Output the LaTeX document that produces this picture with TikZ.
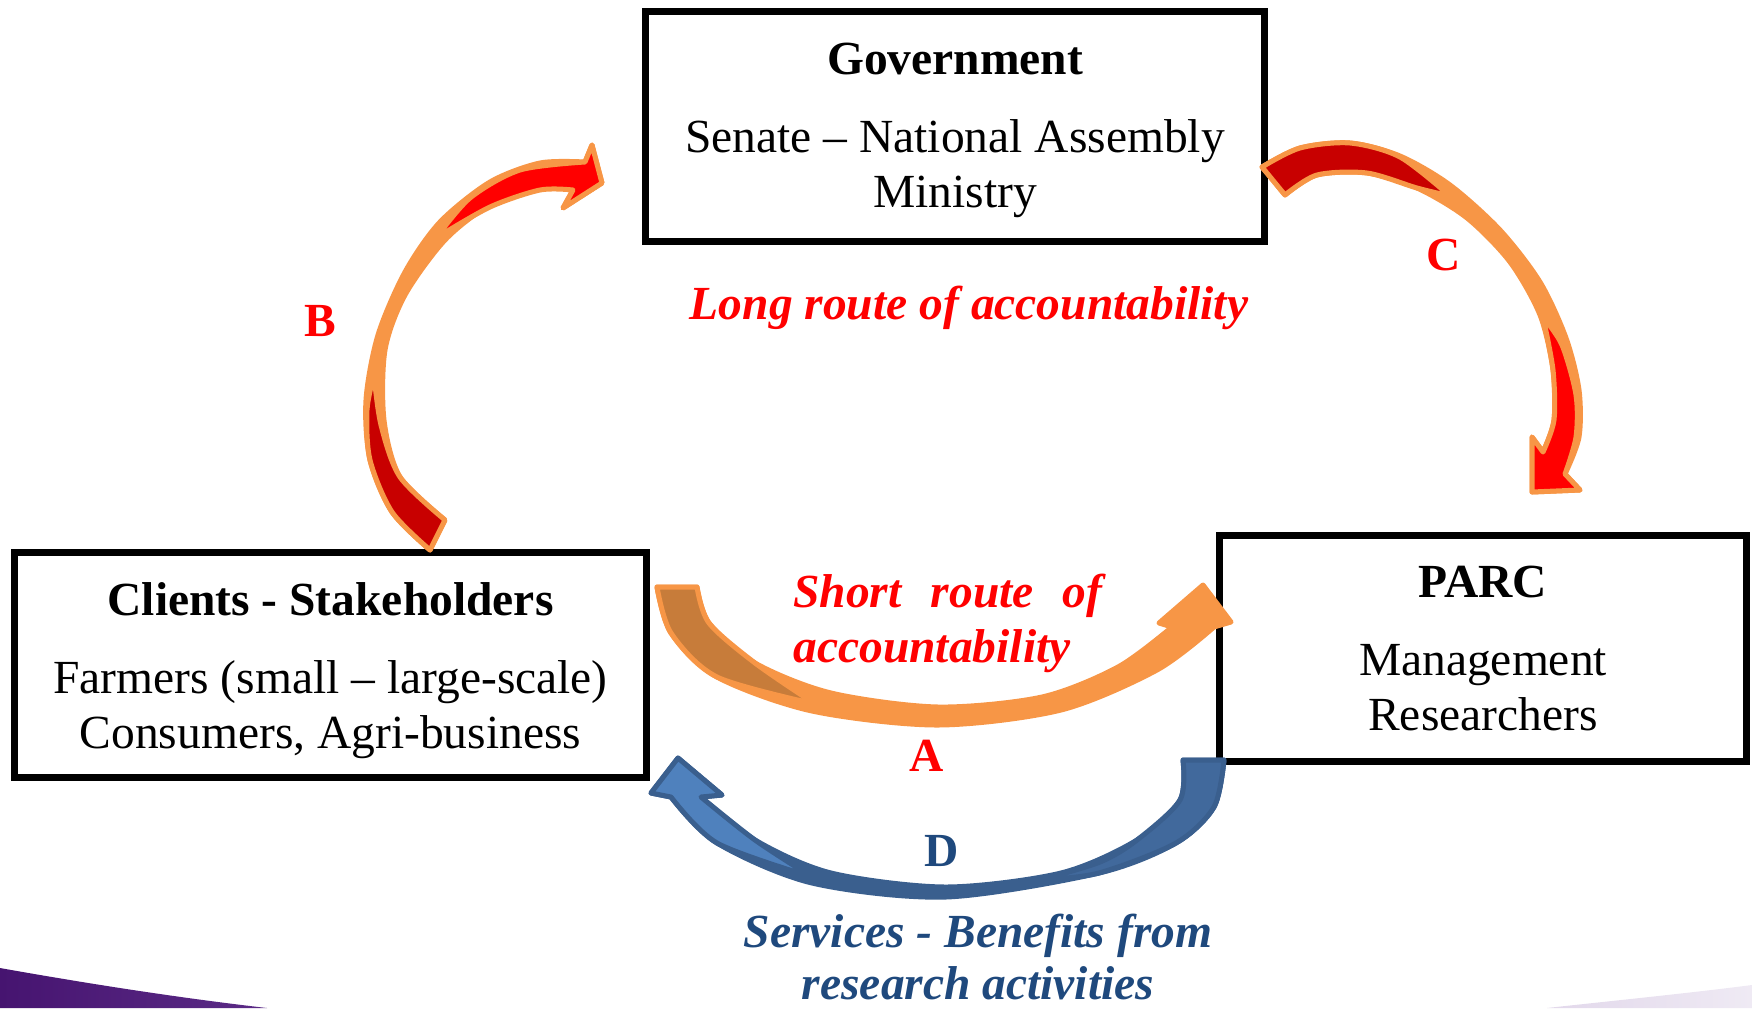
\documentclass[tikz,border=0pt]{standalone}
\usepackage{fontspec}
\setmainfont{Liberation Serif}

\definecolor{arrowOrange}{HTML}{F79646}
\definecolor{arrowBrown}{HTML}{C77C3A}
\definecolor{arrowRed}{HTML}{FF0000}
\definecolor{arrowDarkRed}{HTML}{C80000}
\definecolor{arrowBlue}{HTML}{4F81BD}
\definecolor{arrowNavy}{HTML}{3A5F8E}
\definecolor{arrowSteel}{HTML}{41699C}
\definecolor{textBlue}{HTML}{1F497D}
\definecolor{slidePurple}{HTML}{461470}
\definecolor{slideViolet}{HTML}{5B2B86}
\definecolor{slideLilac}{HTML}{E2D8EB}
\definecolor{slideMist}{HTML}{EFEAF4}

\begin{document}
\begin{tikzpicture}[x=0.5pt, y=-0.5pt,
    box/.style={rectangle, draw, line width=3.5pt, align=center, inner sep=0pt,
        font=\fontsize{23.75pt}{27.5pt}\selectfont},
    tag/.style={anchor=base, inner sep=0pt, font=\fontsize{23.75pt}{27.5pt}\selectfont\bfseries},
    route/.style={anchor=base, inner sep=0pt, font=\fontsize{23.75pt}{27.5pt}\selectfont\bfseries\itshape},
    redrim/.style={draw=arrowOrange, line width=2.5pt, line join=round},
    bluerim/.style={draw=arrowNavy, line width=2.5pt, line join=round}]

    \useasboundingbox (0,0) rectangle (1752,1008);

    % slide corners
    \shade[left color=slidePurple, right color=slideViolet] (0,968) .. controls (90,984) and (180,998) .. (267,1008) -- (0,1008) -- cycle;
    \shade[left color=slideLilac, right color=slideMist] (1547,1008) .. controls (1620,1000) and (1690,993) .. (1752,985) -- (1752,1008) -- cycle;

    % the three boxes
    \node (gov) [box, minimum width=309.5pt, minimum height=115pt] at (955,126.5)
        {\rule{0pt}{20pt}\textbf{Government}\\[11.5pt]Senate – National Assembly\\Ministry};
    \node (clients) [box, minimum width=316pt, minimum height=112.5pt] at (330.5,665)
        {\rule{0pt}{22pt}\textbf{Clients - Stakeholders}\\[11.5pt]Farmers (small – large-scale)\\Consumers, Agri-business};
    \node (parc) [box, minimum width=263.5pt, minimum height=113pt] at (1483,648.5)
        {\textbf{PARC}\\[11.5pt]Management\\Researchers};

    % B: clients up to government
    \filldraw[redrim, fill=arrowOrange] plot[smooth] coordinates {(430,550) (392,512) (370,460) (366,400) (378,335) (405,272) (440,222) (490,182) (540,163) (585,162)}
        -- (592,145) -- (602,183) -- (563,208)
        -- plot[smooth] coordinates {(573,190) (540,188) (490,205) (445,240) (405,295) (385,350) (384,420) (400,477) (445,520)} -- cycle;
    \filldraw[redrim, fill=arrowDarkRed] plot[smooth] coordinates {(430,550) (392,512) (370,460) (367,410) (374,375)}
        -- plot[smooth] coordinates {(374,375) (381,425) (400,477) (445,520)} -- cycle;
    \filldraw[redrim, fill=arrowRed] plot[smooth] coordinates {(436,238) (470,198) (520,170) (585,162)}
        -- (592,145) -- (602,183) -- (563,208)
        -- plot[smooth] coordinates {(573,190) (540,190) (490,207) (436,238)} -- cycle;

    % C: government down to PARC
    \filldraw[redrim, fill=arrowOrange] plot[smooth] coordinates {(1262,167) (1300,148) (1350,143) (1400,156) (1450,185) (1500,230) (1540,282) (1566,338) (1579,390) (1579,437) (1565,474)}
        -- (1580,490) -- (1532,492) -- (1532,437)
        -- plot[smooth] coordinates {(1543,452) (1554,420) (1553,370) (1540,315) (1510,262) (1467,218) (1417,188) (1367,173) (1317,175) (1285,195)} -- cycle;
    \filldraw[redrim, fill=arrowDarkRed] plot[smooth] coordinates {(1262,167) (1300,148) (1350,143) (1400,157) (1450,196)}
        -- plot[smooth] coordinates {(1450,196) (1417,188) (1367,173) (1317,175) (1285,195)} -- cycle;
    \filldraw[redrim, fill=arrowRed] plot[smooth] coordinates {(1543,317) (1562,345) (1576,395) (1576,437) (1565,474)}
        -- (1580,490) -- (1532,492) -- (1532,437)
        -- plot[smooth] coordinates {(1543,452) (1554,420) (1553,370) (1543,317)} -- cycle;

    % A: clients to PARC
    \filldraw[redrim, fill=arrowOrange] plot[smooth] coordinates {(657,587) (671,633) (717,677) (812,711) (938,725) (1061,710) (1157,670) (1214,627)}
        -- (1231,622) -- (1203,585) -- (1159,623)
        -- plot[smooth] coordinates {(1172,627) (1118,667) (1042,697) (938,707) (831,693) (755,663) (709,623) (697,587)} -- cycle;
    \filldraw[redrim, fill=arrowBrown] plot[smooth] coordinates {(657,587) (671,633) (717,677) (815,704)}
        -- plot[smooth] coordinates {(815,704) (755,663) (709,623) (697,587)} -- cycle;

    % D: PARC back to clients
    \filldraw[bluerim, fill=arrowNavy] plot[smooth] coordinates {(1224,760) (1214,807) (1176,843) (1099,873) (946,897) (812,883) (717,843) (671,797)}
        -- (651,793) -- (678,758) -- (722,795)
        -- plot[smooth] coordinates {(701,797) (755,840) (831,873) (946,887) (1061,873) (1137,840) (1180,800) (1183,760)} -- cycle;
    \filldraw[bluerim, fill=arrowBlue] plot[smooth] coordinates {(812,877) (717,843) (671,797)}
        -- (651,793) -- (678,758) -- (722,795)
        -- plot[smooth] coordinates {(701,797) (755,840) (812,877)} -- cycle;
    \filldraw[bluerim, fill=arrowSteel] plot[smooth] coordinates {(1224,760) (1214,807) (1176,843) (1099,873) (1040,880)}
        -- plot[smooth] coordinates {(1040,880) (1100,862) (1137,840) (1180,800) (1183,760)} -- cycle;

    % letters and route texts
    \node (labB) [tag, text=arrowRed] at (320,336) {B};
    \node (labC) [tag, text=arrowRed] at (1444,270) {C};
    \node (labA) [tag, text=arrowRed] at (927,771) {A};
    \node (labD) [tag, text=textBlue] at (942,866) {D};
    \node (longRoute) [route, text=arrowRed] at (969,319) {Long route of accountability};
    \node (shortRoute) [route, anchor=base west, text=arrowRed] at (793,607) {Short\hspace{14.6pt}route\hspace{14.6pt}of};
    \node (shortRoute2) [route, anchor=base west, text=arrowRed] at ([yshift=-27.5pt]shortRoute.base west) {accountability};
    \node (services) [route, text=textBlue] at (978,947) {Services - Benefits from};
    \node (services2) [route, text=textBlue] at ([yshift=-26pt]services.base) {research activities};

\end{tikzpicture}
\end{document}
